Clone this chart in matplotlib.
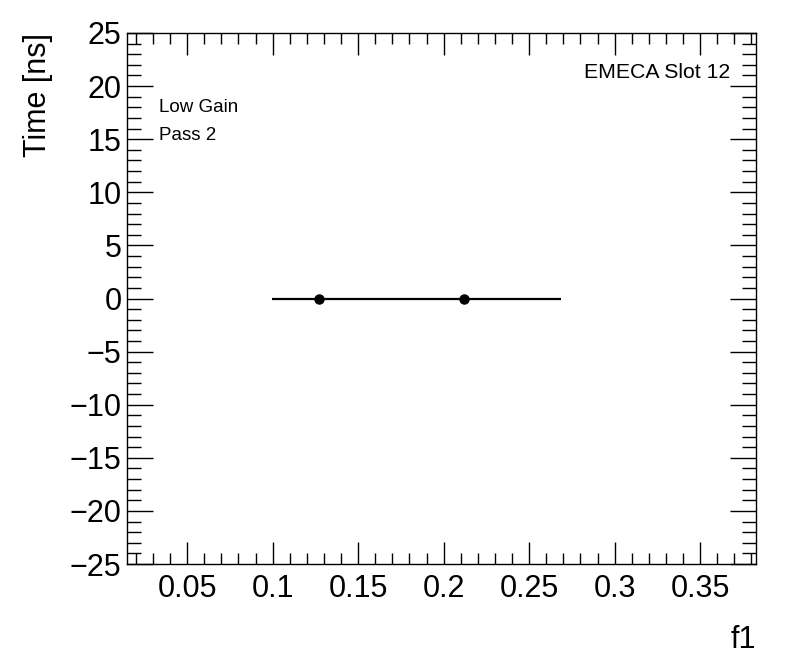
import matplotlib
matplotlib.use("Agg")
import matplotlib.pyplot as plt
from matplotlib.ticker import MultipleLocator

plt.rcParams['font.family'] = ['Liberation Sans', 'DejaVu Sans']

f1_values = [0.127, 0.2117]
f1_errors = [0.0275, 0.0572]
time_values = [0.0, 0.0]
time_errors = [0.0, 0.0]

fig = plt.figure(figsize=(7.96, 6.72), dpi=100)
W, H = 796, 672
left, right, top, bottom = 127, 756, 33, 564
ax = fig.add_axes([left / W, 1 - bottom / H, (right - left) / W, (bottom - top) / H])

ax.errorbar(f1_values, time_values, xerr=f1_errors, yerr=time_errors, fmt='o',
            color='black', markersize=6.5, elinewidth=1.6, capsize=0)

ax.set_xlim(0.0148, 0.3827)
ax.set_ylim(-25, 25)

ax.xaxis.set_major_locator(MultipleLocator(0.05))
ax.xaxis.set_minor_locator(MultipleLocator(0.01))
ax.yaxis.set_major_locator(MultipleLocator(5))
ax.yaxis.set_minor_locator(MultipleLocator(1))

ax.tick_params(which='both', direction='in', top=True, right=True, width=1.0)
ax.tick_params(which='major', length=16, labelsize=22)
ax.tick_params(which='minor', length=8)
ax.tick_params(axis='y', which='major', length=19)
ax.tick_params(axis='y', which='minor', length=10)
ax.tick_params(axis='x', pad=7)
ax.tick_params(axis='y', pad=4)

ax.set_xticks([0.05, 0.1, 0.15, 0.2, 0.25, 0.3, 0.35])
ax.set_xticklabels(['0.05', '0.1', '0.15', '0.2', '0.25', '0.3', '0.35'])

for s in ax.spines.values():
    s.set_linewidth(1.0)

fig.text(756 / W, 1 - 640 / H, 'f1', ha='right', va='center', fontsize=22)
fig.text(38 / W, 1 - 33 / H, 'Time [ns]', ha='center', va='top', rotation=90, fontsize=22)

fig.text(159 / W, 1 - 108 / H, 'Low Gain', ha='left', va='center', fontsize=13.5)
fig.text(159 / W, 1 - 136 / H, 'Pass 2', ha='left', va='center', fontsize=13.5)
fig.text(730 / W, 1 - 73 / H, 'EMECA Slot 12', ha='right', va='center', fontsize=15.3)

fig.savefig('out.png', dpi=100)
